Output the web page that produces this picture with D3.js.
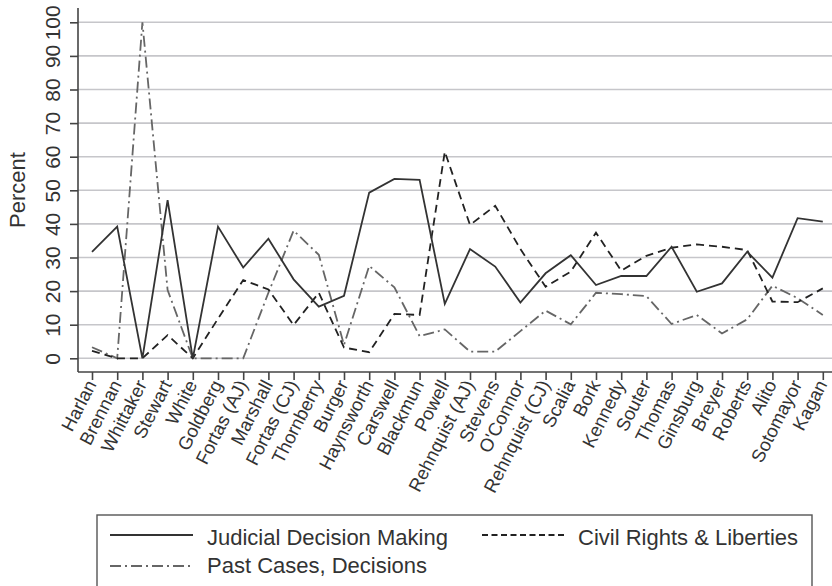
<!DOCTYPE html>
<html><head><meta charset="utf-8">
<script src="https://cdn.jsdelivr.net/npm/d3@7"></script>
<style>
html,body{margin:0;padding:0;background:#fff;}
svg{display:block;font-family:"Liberation Sans",Arial,Helvetica,sans-serif;}
</style></head>
<body><svg id="c" width="832" height="586"></svg>
<script>
const justices = ["Harlan","Brennan","Whittaker","Stewart","White","Goldberg","Fortas (AJ)","Marshall","Fortas (CJ)","Thornberry","Burger","Haynsworth","Carswell","Blackmun","Powell","Rehnquist (AJ)","Stevens","O'Connor","Rehnquist (CJ)","Scalia","Bork","Kennedy","Souter","Thomas","Ginsburg","Breyer","Roberts","Alito","Sotomayor","Kagan"];
const judicialDecisionMaking = [31.7,39.2,0,47.1,0,39.2,27.0,35.6,23.5,15.4,18.6,49.3,53.4,53.1,16.2,32.5,27.3,16.6,25.3,30.7,21.8,24.5,24.5,33.2,19.8,22.3,31.7,24.0,41.7,40.7];
const civilRights = [2.2,0,0,6.9,0,11.8,23.3,20.5,9.9,19.5,3.2,1.8,13.2,12.9,61.5,39.7,45.4,32.5,21.3,25.8,37.4,26.1,30.5,32.9,33.9,33.2,32.2,16.9,16.7,20.8];
const pastCases = [3.3,0,100,20.3,0,0,0,19.5,38.0,30.8,4.0,27.5,21.1,6.6,8.6,2.0,2.0,8.1,14.2,10.1,19.5,19.1,18.5,10.2,12.9,7.4,11.6,21.6,17.9,12.9];
const yTicks = [0,10,20,30,40,50,60,70,80,90,100];
const seriesNames = ["Judicial Decision Making","Civil Rights & Liberties","Past Cases, Decisions"];

const svg = d3.select("#c");
const axisLeft = 78, plotTop = 8, plotBottom = 372;
const x = d3.scalePoint().domain(justices).range([92, 822.8]);
const y = d3.scaleLinear().domain([0,100]).range([358.3, 22.3]);

const styles = [
  {data: judicialDecisionMaking, color:"#333", dash:null, w:1.8},
  {data: civilRights, color:"#222", dash:"8,5", w:1.8},
  {data: pastCases, color:"#666", dash:"11,4,2,4", w:1.8}
];

// gridlines
svg.append("g").selectAll("line").data(yTicks).join("line")
  .attr("x1", axisLeft).attr("x2", 832)
  .attr("y1", d=>y(d)).attr("y2", d=>y(d))
  .attr("stroke","#c6c6ca").attr("stroke-width",1.6);

// y axis
const ya = svg.append("g").attr("transform",`translate(${axisLeft},0)`)
  .call(d3.axisLeft(y).tickValues(yTicks).tickSize(8).tickPadding(0).tickFormat(d3.format("d")));
ya.select(".domain").attr("d",`M0,${plotTop}V${plotBottom}`).attr("stroke","#444").attr("stroke-width",1.6);
ya.selectAll(".tick line").attr("stroke","#444").attr("stroke-width",1.6);
ya.selectAll(".tick text")
  .attr("x",0).attr("dy",null).attr("dominant-baseline","alphabetic")
  .attr("transform","translate(-18,0) rotate(-90)")
  .attr("text-anchor","middle")
  .attr("font-size",21).attr("fill","#333").attr("font-family","Liberation Sans, Arial, sans-serif");

// y title
svg.append("text").attr("transform",`translate(25,${(plotTop+plotBottom)/2}) rotate(-90)`)
  .attr("text-anchor","middle").attr("font-size",22).attr("fill","#333").text("Percent");

// x axis
const xa = svg.append("g").attr("transform",`translate(0,${plotBottom})`)
  .call(d3.axisBottom(x).tickSize(8).tickPadding(0));
xa.select(".domain").attr("d",`M${axisLeft},0H832`).attr("stroke","#444").attr("stroke-width",1.6);
xa.selectAll(".tick line").attr("stroke","#444").attr("stroke-width",1.6);
xa.selectAll(".tick text")
  .attr("y",0).attr("dy",null)
  .attr("transform","translate(0,10) rotate(-63)")
  .attr("text-anchor","end").attr("dominant-baseline","middle")
  .attr("font-size",18.5).attr("fill","#333").attr("font-family","Liberation Sans, Arial, sans-serif");

// lines
const line = d3.line().x((d,i)=>x(justices[i])).y(d=>y(d));
styles.slice().reverse().forEach(s=>{
  svg.append("path").datum(s.data).attr("d",line)
    .attr("fill","none").attr("stroke",s.color).attr("stroke-width",s.w)
    .attr("stroke-dasharray",s.dash).attr("stroke-linejoin","miter");
});

// legend
const lg = svg.append("g");
lg.append("rect").attr("x",97).attr("y",515).attr("width",715).attr("height",90)
  .attr("fill","#fff").attr("stroke","#555").attr("stroke-width",1.4);
const legItems = [
  {i:0, x1:110, x2:193, tx:207, cy:535, by:545},
  {i:1, x1:482, x2:565, tx:578, cy:535, by:545},
  {i:2, x1:110, x2:193, tx:207, cy:566, by:573}
];
const legDash = [null,"6,3.5","11,4,2,4"];
legItems.forEach(it=>{
  const s = styles[it.i];
  lg.append("line").attr("x1",it.x1).attr("x2",it.x2).attr("y1",it.cy).attr("y2",it.cy)
    .attr("stroke",s.color).attr("stroke-width",1.8).attr("stroke-dasharray",legDash[it.i]);
  lg.append("text").attr("x",it.tx).attr("y",it.by).attr("font-size",22).attr("fill","#333")
    .text(seriesNames[it.i]);
});
</script></body></html>
